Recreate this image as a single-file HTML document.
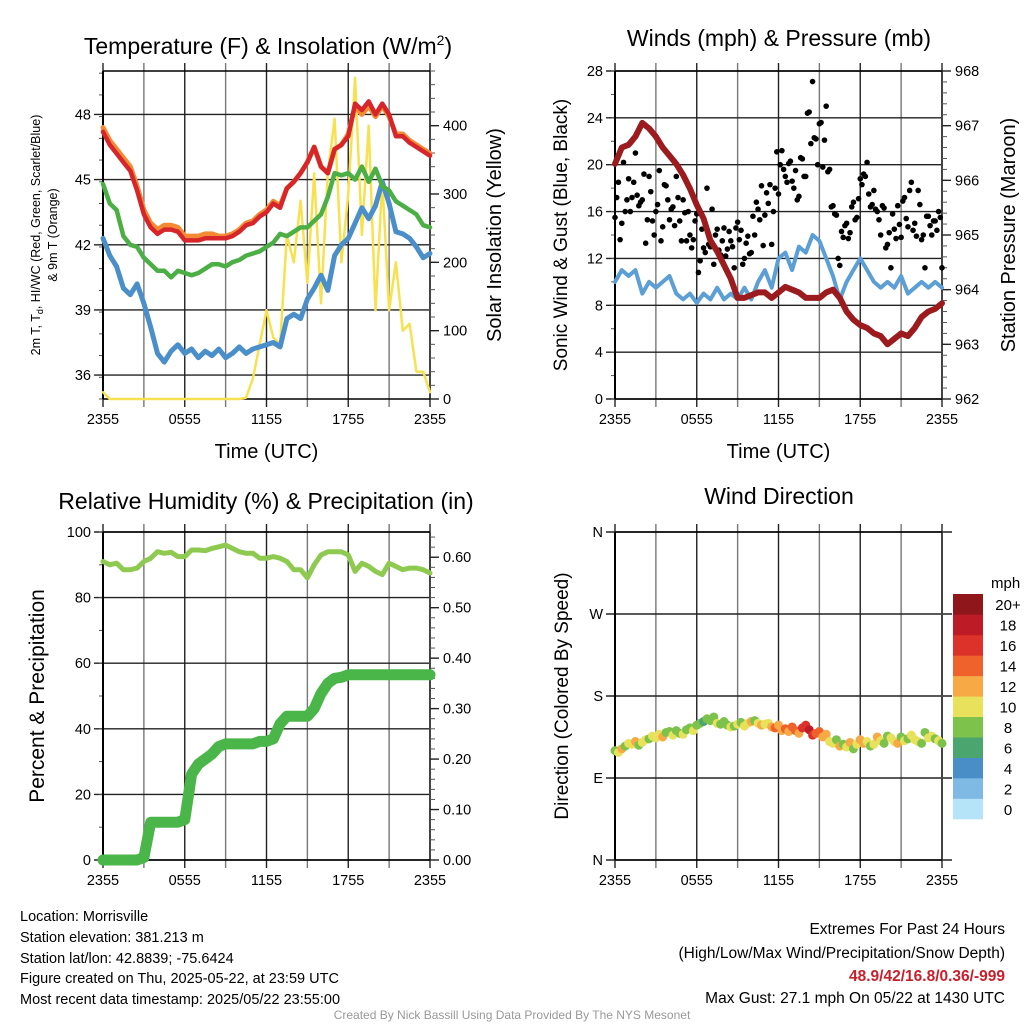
<!DOCTYPE html>
<html><head><meta charset="utf-8">
<style>
html,body{margin:0;padding:0;background:#fff;}
svg{display:block;font-family:"Liberation Sans",sans-serif;}
</style></head>
<body>
<svg id="chart" width="1024" height="1024" viewBox="0 0 1024 1024" xmlns="http://www.w3.org/2000/svg">
<rect width="1024" height="1024" fill="#fff"/>
<g id="layer"></g>
<text x="268" y="54" font-size="23" text-anchor="middle">Temperature (F) &amp; Insolation (W/m<tspan font-size="14" dy="-9">2</tspan><tspan dy="9">)</tspan></text>
<text x="779" y="46" font-size="23" text-anchor="middle">Winds (mph) &amp; Pressure (mb)</text>
<text x="266" y="509" font-size="23" text-anchor="middle">Relative Humidity (%) &amp; Precipitation (in)</text>
<text x="779" y="504" font-size="23" text-anchor="middle">Wind Direction</text>
<g font-size="14.5">
<text x="20" y="921">Location: Morrisville</text>
<text x="20" y="942">Station elevation: 381.213 m</text>
<text x="20" y="963">Station lat/lon: 42.8839; -75.6424</text>
<text x="20" y="983">Figure created on Thu, 2025-05-22, at 23:59 UTC</text>
<text x="20" y="1004">Most recent data timestamp: 2025/05/22 23:55:00</text>
</g>
<g font-size="15.5" text-anchor="end">
<text x="1005" y="934">Extremes For Past 24 Hours</text>
<text x="1005" y="958">(High/Low/Max Wind/Precipitation/Snow Depth)</text>
<text x="1005" y="981" fill="#c8202a" font-weight="bold">48.9/42/16.8/0.36/-999</text>
<text x="1005" y="1003">Max Gust: 27.1 mph On 05/22 at 1430 UTC</text>
</g>
<text x="512" y="1019" font-size="12" fill="#999" text-anchor="middle">Created By Nick Bassill Using Data Provided By The NYS Mesonet</text>
</svg>
<script>
// ---- data (half-hourly, t = i*0.5 h from 2355) ----
const xTickLabels = ["2355","0555","1155","1755","2355"];
const tempRed = [47.2,46.6,46.2,45.8,45.4,44.5,43.4,42.8,42.5,42.7,42.7,42.6,42.2,42.2,42.2,42.3,42.3,42.3,42.3,42.4,42.6,42.9,43.0,43.3,43.5,43.9,43.7,44.6,44.9,45.3,45.8,46.5,45.6,45.3,46.4,46.6,47.0,48.5,48.2,48.6,48.0,48.5,48.0,47.0,47.0,46.7,46.5,46.3,46.1];
const tempOrange = [47.4,46.8,46.4,46.0,45.6,44.7,43.6,43.0,42.7,42.9,42.9,42.8,42.4,42.4,42.4,42.5,42.5,42.4,42.4,42.5,42.7,43.0,43.1,43.4,43.6,44.0,43.8,44.6,44.9,45.3,45.8,46.5,45.6,45.3,46.4,46.6,47.1,48.4,48.0,48.4,47.9,48.4,47.9,47.1,47.1,46.8,46.6,46.4,46.2];
const tempGreen = [44.8,43.9,43.6,42.4,42.0,41.9,41.4,41.1,40.8,40.8,40.5,40.8,40.7,40.6,40.7,40.9,41.1,41.1,41.0,41.2,41.3,41.5,41.6,41.7,41.9,42.1,42.5,42.4,42.6,42.8,42.8,43.1,43.4,44.2,45.3,45.2,45.3,45.0,45.6,44.9,45.5,44.7,44.5,44.0,43.8,43.6,43.4,42.9,42.8];
const tempBlue = [42.3,41.5,41.0,40.0,39.7,40.2,39.3,38.2,37.0,36.6,37.1,37.4,37.0,37.2,36.8,37.1,36.9,37.2,36.8,37.0,37.3,37.0,37.2,37.3,37.4,37.5,37.3,38.6,38.8,38.6,39.5,40.0,40.6,39.9,41.5,42.0,42.3,43.0,43.7,43.2,43.8,44.9,43.9,42.6,42.5,42.3,41.9,41.4,41.6];
const solar = [10,0,0,0,0,0,0,0,0,0,0,0,0,0,0,0,0,0,0,0,0,2,30,80,130,90,80,240,200,290,170,330,140,330,410,200,300,470,240,400,130,320,130,200,100,110,40,40,10];
const tempTicks = [36,39,42,45,48];
const solarTicks = [0,100,200,300,400];

const windSpeed = [10,11,10.5,11,9,10,9.5,10,10.5,9,8.5,9,8.2,9,8.5,9.5,8.5,9,8.5,9.5,8.5,10,11,9.5,12,12.5,11,13,12.5,14,13.5,12,10.5,8.5,10,11,12,11,10,9.5,10,9.5,10.5,9,9.5,10,9.5,10,9.5];
const pressure = [966.3,966.6,966.65,966.8,967.05,966.95,966.8,966.6,966.45,966.3,966.1,965.85,965.55,965.3,964.9,964.7,964.45,964.2,963.85,963.85,963.9,963.95,963.95,963.85,963.95,964.05,964.0,963.95,963.85,963.85,963.85,963.95,964.0,963.85,963.6,963.45,963.35,963.3,963.2,963.15,963.0,963.1,963.2,963.15,963.3,963.5,963.6,963.65,963.75];
// gusts every 15 min (t = i*0.25) and offset set (t = i*0.25+0.125)
const gustA = [15.5,18.5,15.0,16.0,18.8,17.2,21.0,16.5,17.0,13.3,19.0,15.2,16.0,19.5,14.7,18.2,15.3,16.4,19.0,15.2,17.0,13.5,14.0,13.6,15.8,11.8,12.9,18.0,13.0,11.5,14.5,12.3,14.6,12.8,13.5,11.2,15.1,14.4,12.0,13.9,12.5,14.0,16.2,18.2,15.7,16.7,13.2,18.0,17.5,21.2,19.0,20.1,18.6,19.5,17.3,20.5,19.0,24.5,27.1,22.2,23.5,19.8,25.0,19.6,16.5,15.7,11.4,13.8,15.0,14.2,16.8,15.5,18.8,19.2,20.2,16.4,17.8,16.0,14.0,16.3,13.2,11.2,14.5,16.5,13.8,17.2,14.7,18.5,15.0,17.8,13.6,11.2,15.6,14.0,15.2,16.0,11.2];
const gustB = [17.2,13.6,20.2,17.0,16.0,18.5,17.4,16.8,19.2,15.3,17.7,14.0,16.6,13.5,18.3,17.0,16.2,14.8,17.2,13.5,15.9,16.0,12.9,15.2,10.8,14.5,12.5,13.2,16.2,14.0,12.7,13.5,12.2,14.3,13.0,14.6,13.6,11.5,13.3,12.4,15.6,16.8,15.3,13.1,17.6,18.3,16.0,21.1,20.0,19.6,18.5,20.3,18.0,17.0,20.6,19.0,24.4,21.8,22.3,20.0,23.6,22.1,19.4,16.4,15.8,12.0,14.3,14.8,13.7,16.4,15.3,17.1,18.3,19.0,17.5,16.6,16.2,15.3,16.5,12.9,14.2,15.8,13.7,14.9,16.9,15.4,17.8,14.4,13.9,16.6,14.0,15.6,14.8,15.2,14.4,15.5];
const windTicks = [0,4,8,12,16,20,24,28];
const pressTicks = [962,963,964,965,966,967,968];

const rh = [91,90,90.5,88.5,88.5,89,91,92,94,93.5,93.8,92.5,92.5,94.5,94.5,94.3,95,95.5,96,95,94,93.5,93.5,92,92,92.5,92,91,88.5,88.5,86,90,93,94,94,94,93,88,90.5,89.5,88,87,90.5,89.5,88.5,89,89,88.5,87.5];
const precip = [0,0,0,0,0,0,0.005,0.075,0.075,0.075,0.075,0.075,0.08,0.17,0.19,0.2,0.21,0.225,0.23,0.23,0.23,0.23,0.23,0.235,0.235,0.24,0.27,0.285,0.285,0.285,0.285,0.3,0.33,0.35,0.36,0.362,0.367,0.367,0.367,0.367,0.367,0.367,0.367,0.367,0.367,0.367,0.367,0.367,0.367];
const rhTicks = [0,20,40,60,80,100];
const precipTicks = [0,0.1,0.2,0.3,0.4,0.5,0.6];

// wind direction every 15 min
const windDir = [120,118,122,125,128,127,130,126,129,132,133,136,134,138,135,140,141,137,142,139,138,143,145,142,148,150,152,155,153,157,150,149,152,148,146,147,149,151,147,150,152,153,150,148,149,150,146,145,148,142,144,141,146,142,139,145,148,143,137,139,141,135,138,130,128,132,125,127,124,129,122,127,132,128,130,125,127,135,131,128,136,134,130,128,135,131,133,137,132,130,128,140,134,136,133,131,128];
const dirSpeed = [8,11,13,9,10,11,12,9,10,10,8,10,11,10,12,8,9,10,8,9,10,8,9,10,9,8,6,8,8,9,10,8,9,8,10,9,10,8,11,10,12,9,10,12,10,11,12,14,12,13,14,12,15,14,13,16,17,18,16,15,14,12,13,11,10,8,12,9,10,12,9,11,13,12,11,9,10,12,11,9,8,11,10,12,9,10,8,11,10,11,9,8,10,11,9,10,8];
const dirTicks = [0,90,180,270,360];
const dirTickLabels = ["N","E","S","W","N"];
const speedBinLabels = ["0","2","4","6","8","10","12","14","16","18","20+"];
const speedColors = ["#b5e3f8","#7fbae4","#4a8ec8","#4aa56e","#7cc24b","#e7e15b","#f6a945","#ef622c","#dc3229","#bd1c27","#8f161a"];

// ---- helpers ----
const NS = "http://www.w3.org/2000/svg";
const layer = document.getElementById('layer');
function mk(tag, attrs, parent){ const e=document.createElementNS(NS,tag); for(const k in attrs) e.setAttribute(k,attrs[k]); (parent||layer).appendChild(e); return e; }
function xScale(x0,x1){ return t => x0 + t/24*(x1-x0); }
function yScale(y0,y1,v0,v1){ return v => y1 - (v-v0)/(v1-v0)*(y1-y0); }
function fmt(v,d){ return v.toFixed(d); }

function panel(cfg){
  const g = mk('g',{});
  
  
  const {x0,x1,y0,y1} = cfg;
  const X = xScale(x0,x1);
  const YL = yScale(y0,y1,cfg.lmin,cfg.lmax);
  // grid
  const grid = mk('g',{stroke:'#555','stroke-width':1.4},g);
  
  
  for(let h=0; h<=24; h+=3){ const x=X(h); mk('line',{x1:x,x2:x,y1:y0-8,y2:y1+8, stroke:(h%6===0?'#222':'#777')},grid); }
  cfg.lticks.forEach(v=>{ const y=YL(v); mk('line',{x1:x0-9,x2:cfg.right?x1:x1+10,y1:y,y2:y, stroke:'#222'},grid); });
  // minor left ticks
  if(cfg.lminor){ for(let v=cfg.lmin; v<=cfg.lmax+1e-9; v+=cfg.lminor){ const y=YL(v); if(y>=y0-0.5&&y<=y1+0.5) mk('line',{x1:x0-4,x2:x0,y1:y,y2:y,stroke:'#555','stroke-width':1},g);} }
  // frame
  mk('line',{x1:x0,x2:x0,y1:y0,y2:y1,stroke:'#000','stroke-width':2},g);
  mk('line',{x1:x1,x2:x1,y1:y0,y2:y1,stroke:'#444','stroke-width':2},g);
  mk('line',{x1:x0,x2:x1,y1:y0,y2:y0,stroke:'#000','stroke-width':1.6},g);
  mk('line',{x1:x0,x2:x1,y1:y1,y2:y1,stroke:'#000','stroke-width':1.6},g);
  // x labels
  const xl = mk('g',{'font-size':14.5,'text-anchor':'middle'},g);
  
  
  xTickLabels.forEach((s,i)=>{ const t=mk('text',{x:X(i*6),y:y1+25},xl); t.textContent=s; });
  if(cfg.xtitle){ const t=mk('text',{x:(x0+x1)/2,y:y1+59,'font-size':20},xl); t.textContent='Time (UTC)'; }
  // left labels
  const ll = mk('g',{'font-size':14.5,'text-anchor':'end'},g);
  
  
  cfg.lticks.forEach((v,i)=>{ const t=mk('text',{x:x0-12,y:YL(v)+5},ll); t.textContent = cfg.llabels?cfg.llabels[i]:fmt(v,cfg.ldec||0); });
  // right axis
  let YR=null;
  if(cfg.right){
    YR = yScale(y0,y1,cfg.rmin,cfg.rmax);
    const rl = mk('g',{'font-size':14.5},g);
    
    
    for(let v=cfg.rmin; v<=cfg.rmax+1e-9; v+=cfg.rminor){ const y=YR(v); if(y>=y0-0.5) mk('line',{x1:x1,x2:x1+5,y1:y,y2:y,stroke:'#555','stroke-width':1},rl); }
    cfg.rticks.forEach(v=>{ const y=YR(v); mk('line',{x1:x1,x2:x1+9,y1:y,y2:y,stroke:'#222','stroke-width':1.4},rl); const t=mk('text',{x:x1+13,y:y+5},rl); t.textContent=fmt(v,cfg.rdec||0); });
  }
  return {g,X,YL,YR};
}
function line(p, Y, arr, color, w, name, step){
  const pts = arr.map((v,i)=>p.X(i*(step||0.5)).toFixed(1)+','+Y(v).toFixed(1)).join(' ');
  const e = mk('polyline',{points:pts,fill:'none',stroke:color,'stroke-width':w,'stroke-linejoin':'round','stroke-linecap':'round'},p.g);
  
  
  return e;
}
function rotText(x,y,txt,size,name){
  const t = mk('text',{x:x,y:y,'font-size':size,'text-anchor':'middle',transform:`rotate(-90 ${x} ${y})`});
  
  
  t.textContent = txt; return t;
}

// ---- Panel 1: temperature ----
const p1 = panel({name:'temp-panel',x0:103,x1:430,y0:71,y1:399,lmin:34.9,lmax:50,lticks:tempTicks,lminor:1,right:true,rmin:0,rmax:480,rticks:solarTicks,rminor:20,xtitle:true});
line(p1,p1.YR,solar,'#f8e150',2.5,'solar-line');
line(p1,p1.YL,tempBlue,'#4a8fca',5,'dewpoint-line');
line(p1,p1.YL,tempGreen,'#4caf45',4.5,'chill-line');
line(p1,p1.YL,tempOrange,'#f58a34',5,'temp9m-line');
line(p1,p1.YL,tempRed,'#d7262b',4.5,'temp2m-line');
(function(){
  const t = mk('text',{x:40,y:235,'font-size':12.5,'text-anchor':'middle',transform:'rotate(-90 40 235)'});
  
  
  t.innerHTML = '2m T, T<tspan font-size="9" dy="3">d</tspan><tspan dy="-3">, HI/WC (Red, Green, Scarlet/Blue)</tspan>';
  rotText(57,235,'& 9m T (Orange)',12.5,'temp-y-title-2');
})();
rotText(501,235,'Solar Insolation (Yellow)',20,'solar-y-title');

// ---- Panel 2: wind ----
const p2 = panel({name:'wind-panel',x0:615,x1:942,y0:71,y1:399,lmin:0,lmax:28,lticks:windTicks,lminor:2,right:true,rmin:962,rmax:968,rticks:pressTicks,rminor:0.2,xtitle:true});
line(p2,p2.YL,windSpeed,'#5b9fd6',4,'wind-speed-line');
(function(){
  const gg = mk('g',{fill:'#000'},p2.g);
  
  
  gustA.forEach((v,i)=>{ const c=mk('circle',{cx:p2.X(i*0.25),cy:p2.YL(v),r:2.8},gg);   });
  gustB.forEach((v,i)=>{ const c=mk('circle',{cx:p2.X(i*0.25+0.125),cy:p2.YL(v),r:2.8},gg);   });
})();
line(p2,p2.YR,pressure,'#9b1b1e',6,'pressure-line');
rotText(567,235,'Sonic Wind & Gust (Blue, Black)',19,'wind-y-title');
rotText(1015,235,'Station Pressure (Maroon)',20,'pressure-y-title');

// ---- Panel 3: RH & precip ----
const p3 = panel({name:'rh-panel',x0:103,x1:430,y0:532,y1:860,lmin:0,lmax:100,lticks:rhTicks,lminor:10,right:true,rmin:0,rmax:0.65,rticks:precipTicks,rminor:0.02,rdec:2,xtitle:false});
line(p3,p3.YL,rh,'#8fca50',5,'rh-line');
line(p3,p3.YR,precip,'#4ab548',11,'precip-line');
rotText(44,696,'Percent & Precipitation',21,'rh-y-title');

// ---- Panel 4: direction ----
const p4 = panel({name:'dir-panel',x0:615,x1:942,y0:532,y1:860,lmin:0,lmax:360,lticks:dirTicks,llabels:dirTickLabels,right:false,xtitle:false});
(function(){
  const gg = mk('g',{},p4.g);
  
  
  windDir.forEach((d,i)=>{
    const bin = Math.min(10, Math.floor(dirSpeed[i]/2));
    const c = mk('circle',{cx:p4.X(i*0.25),cy:p4.YL(d),r:4.5,fill:speedColors[bin]},gg);
    
    
  });
})();
rotText(568,696,'Direction (Colored By Speed)',19,'dir-y-title');
(function(){
  const cb = mk('g',{});
  
  
  const top=594, bot=819, h=(bot-top)/speedColors.length;
  speedColors.forEach((c,i)=>{
    const y = bot-(i+1)*h;
    const r = mk('rect',{x:953,y:y,width:30,height:h+0.3,fill:c},cb);
    
    
    const t = mk('text',{x:1008,y:y+h/2+6,'font-size':15,'text-anchor':'middle'},cb);
    t.textContent = speedBinLabels[i];
  });
  const u = mk('text',{x:991,y:588,'font-size':15},cb); u.textContent='mph';
})();
</script>
</body></html>
